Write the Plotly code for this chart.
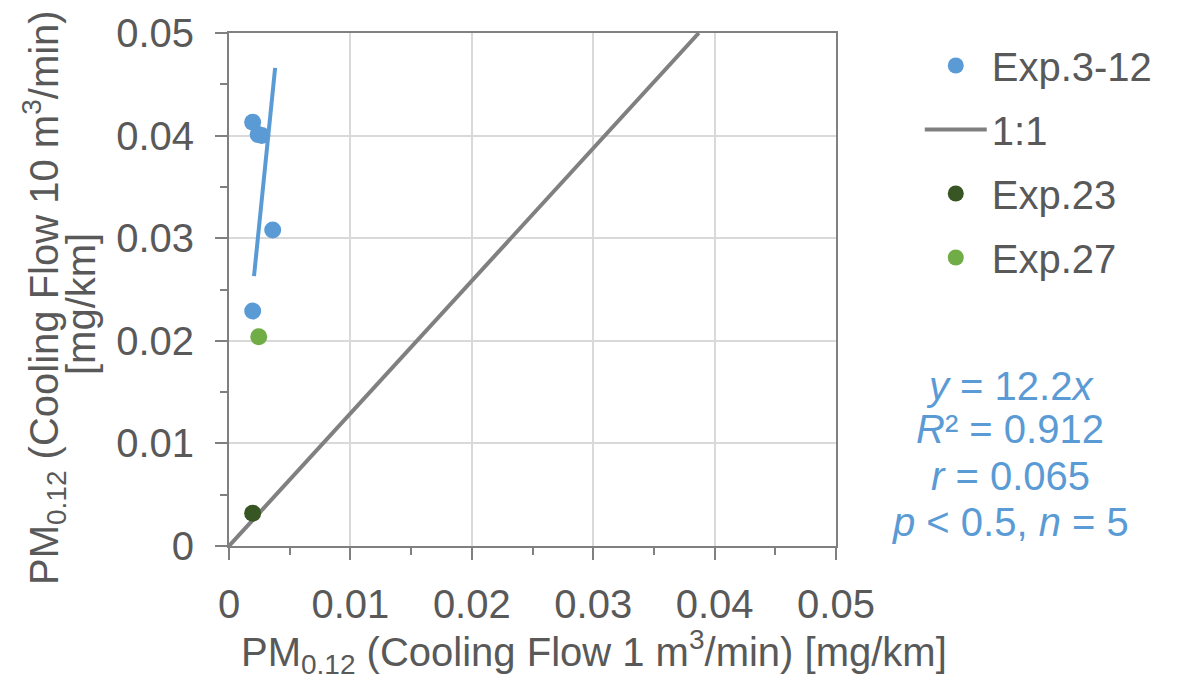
import plotly.graph_objects as go

# Data
exp312_x = [0.00195, 0.00240, 0.00270, 0.00360, 0.00195]
exp312_y = [0.0413, 0.0401, 0.0400, 0.0308, 0.0229]
exp23_x = [0.00195]
exp23_y = [0.00320]
exp27_x = [0.00245]
exp27_y = [0.0204]
trend_x = [0.00206, 0.00380]
trend_y = [0.0263, 0.0466]
oneone_x = [0.0, 0.0387]
oneone_y = [0.0, 0.05]
stats_lines = ["<i>y</i> = 12.2<i>x</i>", "<i>R</i>² = 0.912",
               "<i>r</i> = 0.065", "<i>p</i> &lt; 0.5, <i>n</i> = 5"]
ytitle_lines = ["PM<sub>0.12</sub> (Cooling Flow 10 m<sup>3</sup>/min)", "[mg/km]"]
xtitle = "PM<sub>0.12</sub> (Cooling Flow 1 m<sup>3</sup>/min) [mg/km]"

FONT = "Liberation Sans, Arial, sans-serif"
TXT = "#595959"
BLUE = "#5B9BD5"

# page body has an 8px margin; plot area should land at x 229..836, y 33..546
L, T, PW, PH = 221, 25, 607, 513


def px_x(p):
    return (p - 229) / PW


def px_y(p):
    return (546 - p) / PH


fig = go.Figure()
fig.add_trace(go.Scatter(x=exp312_x, y=exp312_y, mode="markers", name="Exp.3-12",
                         marker=dict(color=BLUE, size=17), legendgroup="a"))
fig.add_trace(go.Scatter(x=trend_x, y=trend_y, mode="lines", showlegend=False,
                         line=dict(color=BLUE, width=4), hoverinfo="skip"))
fig.add_trace(go.Scatter(x=oneone_x, y=oneone_y, mode="lines", name="1:1",
                         line=dict(color="#808080", width=4), legendgroup="b"))
fig.add_trace(go.Scatter(x=exp23_x, y=exp23_y, mode="markers", name="Exp.23",
                         marker=dict(color="#375623", size=17), legendgroup="c"))
fig.add_trace(go.Scatter(x=exp27_x, y=exp27_y, mode="markers", name="Exp.27",
                         marker=dict(color="#70AD47", size=17), legendgroup="d"))

axis_common = dict(
    range=[0, 0.05], dtick=0.01, tick0=0, automargin=False,
    showline=True, mirror=True, linecolor="#808080", linewidth=2,
    showgrid=True, gridcolor="#D9D9D9", gridwidth=2,
    ticks="outside", ticklen=12, tickwidth=2, tickcolor="#808080",
    minor=dict(dtick=0.005, ticks="outside", ticklen=7, tickwidth=2,
               tickcolor="#808080", showgrid=False),
    zeroline=False,
    tickfont=dict(family=FONT, size=40, color=TXT),
)

fig.update_layout(
    width=1178, height=678,
    margin=dict(l=L, r=1178 - L - PW, t=T, b=678 - T - PH),
    paper_bgcolor="white", plot_bgcolor="white",
    font=dict(family=FONT, color=TXT),
    xaxis=dict(**axis_common, ticklabelstandoff=10),
    yaxis=dict(**axis_common, ticklabelstandoff=13),
    legend=dict(x=1.138, y=1.0, xanchor="left", yanchor="top",
                font=dict(family=FONT, size=40, color=TXT), itemwidth=62,
                tracegroupgap=9, bgcolor="rgba(0,0,0,0)"),
    showlegend=True,
)

# x-axis title (offset to the right as in the reference)
fig.add_annotation(
    xref="paper", yref="paper", x=px_x(594), y=px_y(652),
    xanchor="center", yanchor="middle", showarrow=False,
    text=xtitle, font=dict(family=FONT, size=40, color=TXT),
)

# y-axis title (two lines, tight spacing as in the reference)
for txt, xpx, ypx in zip(ytitle_lines, [44, 81], [298, 304]):
    fig.add_annotation(
        xref="paper", yref="paper", x=px_x(xpx), y=px_y(ypx),
        xanchor="center", yanchor="middle", showarrow=False, textangle=-90,
        text=txt, font=dict(family=FONT, size=40, color=TXT),
    )

stats_y_px = [386, 429, 476, 522]
for txt, ypx in zip(stats_lines, stats_y_px):
    fig.add_annotation(
        xref="paper", yref="paper", x=px_x(1010), y=px_y(ypx),
        xanchor="center", yanchor="middle", showarrow=False, align="center",
        text=txt, font=dict(family=FONT, size=40, color=BLUE),
    )

fig.write_html("out.html")
